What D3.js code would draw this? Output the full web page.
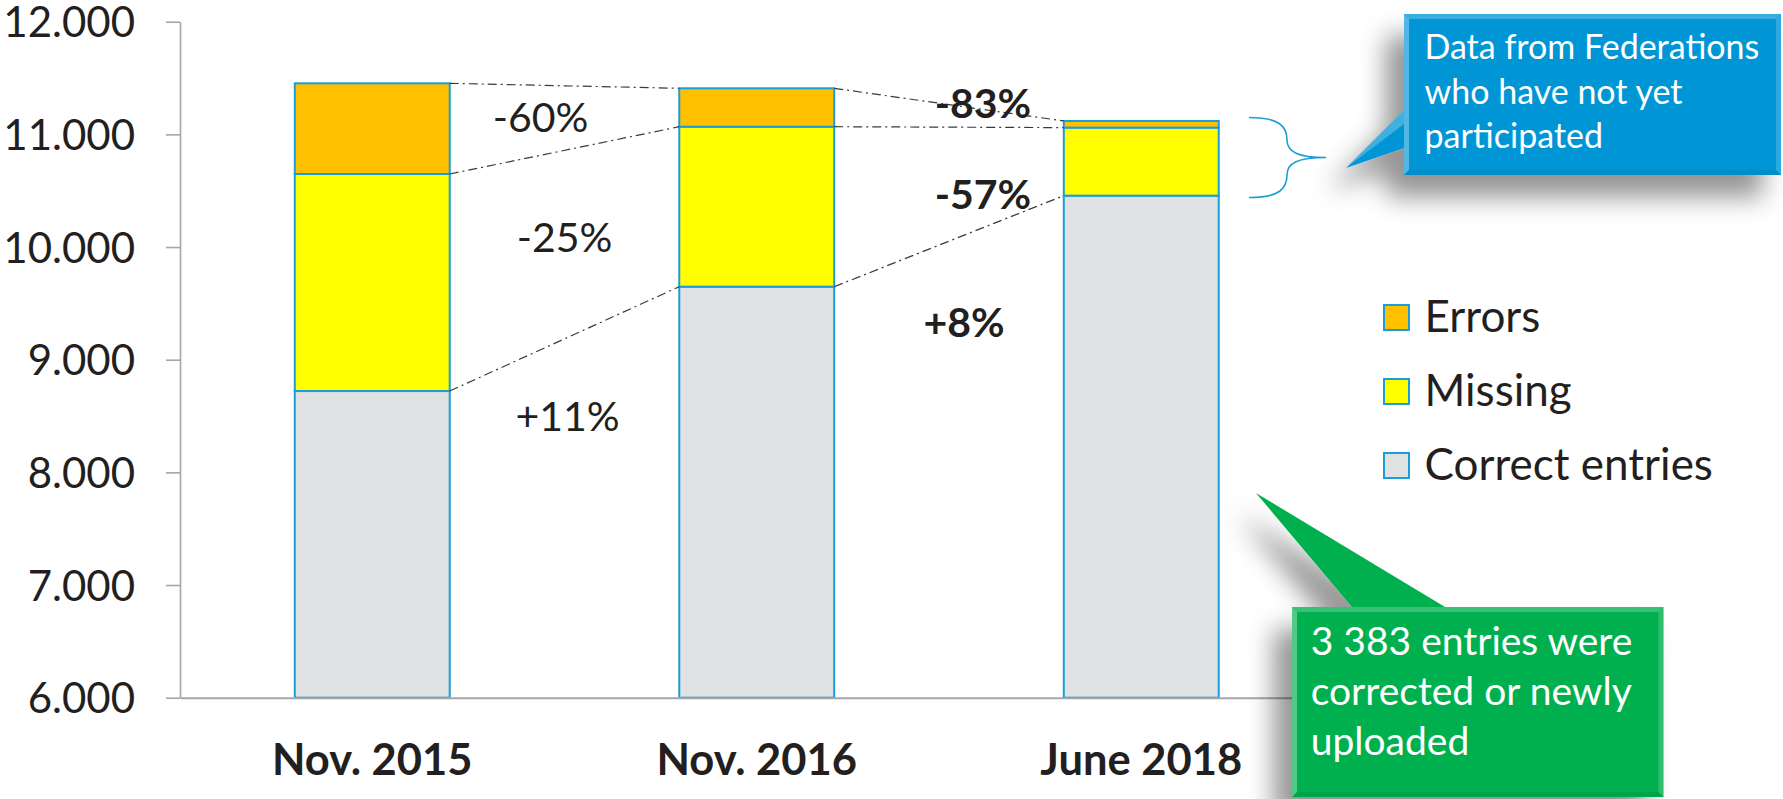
<!DOCTYPE html>
<html>
<head>
<meta charset="utf-8">
<script src="https://cdn.jsdelivr.net/npm/d3@7"></script>
<style>
  html, body { margin: 0; padding: 0; background: #fff; }
  svg { display: block; font-family: Lato, "Open Sans", sans-serif; }
</style>
</head>
<body>
<svg id="chart" width="1783" height="799"></svg>
<script>
// ---------------- data ----------------
const categories = ["Nov. 2015", "Nov. 2016", "June 2018"];
const correctEntries = [8722, 9648, 10456];
const missingEntries = [1926, 1420, 604];
const errorEntries = [805, 341, 59];
const seriesNames = ["Correct entries", "Missing", "Errors"];
const yTicks = [6000, 7000, 8000, 9000, 10000, 11000, 12000];
// change labels between consecutive periods (errors, missing, correct)
const changes1516 = ["-60%", "-25%", "+11%"];
const changes1618 = ["-83%", "-57%", "+8%"];
const calloutBlue = ["Data from Federations", "who have not yet", "participated"];
const calloutGreen = ["3 383 entries were", "corrected or newly", "uploaded"];

// ---------------- layout / style ----------------
const colors = { "Errors": "#FFC000", "Missing": "#FFFF00", "Correct entries": "#E0E1E3" };
const barStroke = "#1B9DD9";
const axisColor = "#A6A6A6";
const textColor = "#231F20";

const svg = d3.select("#chart");
const defs = svg.append("defs");
const shadow = defs.append("filter").attr("id", "shadow")
  .attr("x", "-30%").attr("y", "-30%").attr("width", "160%").attr("height", "170%");
shadow.append("feDropShadow").attr("dx", -18).attr("dy", 22).attr("stdDeviation", 13)
  .attr("flood-color", "#000").attr("flood-opacity", 0.42);

const y = d3.scaleLinear().domain([6000, 12000]).range([697.7, 21.7]);
const yMin = y.domain()[0];
const x = d3.scaleBand().domain(categories).range([180, 1333.5])
  .paddingInner(0.597).paddingOuter(0.2985);

const table = categories.map((c, i) => ({
  cat: c,
  "Correct entries": correctEntries[i],
  "Missing": missingEntries[i],
  "Errors": errorEntries[i]
}));
const stacked = d3.stack().keys(seriesNames)(table);

// ---------------- bars ----------------
const layers = svg.append("g").selectAll("g").data(stacked).join("g")
  .attr("fill", d => colors[d.key]);
layers.selectAll("rect").data(d => d).join("rect")
  .attr("x", d => x(d.data.cat))
  .attr("y", d => y(d[1]))
  .attr("width", x.bandwidth())
  .attr("height", d => y(Math.max(d[0], yMin)) - y(d[1]))
  .attr("stroke", barStroke).attr("stroke-width", 2);

// ---------------- axes ----------------
const locale = d3.formatLocale({ decimal: ",", thousands: ".", grouping: [3], currency: ["", ""] });
const yAxis = d3.axisLeft(y).tickValues(yTicks).tickSize(14).tickSizeOuter(0)
  .tickPadding(31).tickFormat(locale.format(","));
const gy = svg.append("g").attr("transform", "translate(180,0)").call(yAxis);
gy.select(".domain").attr("stroke", axisColor).attr("stroke-width", 1.6);
gy.selectAll(".tick line").attr("stroke", axisColor).attr("stroke-width", 1.6);
gy.selectAll(".tick text").attr("fill", textColor).style("font-size", "42px")
  .style("font-family", "Lato").attr("dy", "0.36em");

const xAxis = d3.axisBottom(x).tickSize(0).tickSizeOuter(0).tickPadding(0);
const gx = svg.append("g").attr("transform", `translate(0,${y(yMin)})`).call(xAxis);
gx.select(".domain").attr("stroke", axisColor).attr("stroke-width", 2);
gx.selectAll(".tick text").attr("fill", textColor).style("font-size", "43.5px")
  .style("font-family", "Lato").style("font-weight", "bold").attr("y", 77).attr("dy", 0);

// ---------------- dash-dot connectors ----------------
const conn = svg.append("g").attr("fill", "none").attr("stroke", "#3a3a3a")
  .attr("stroke-width", 1.2).attr("stroke-dasharray", "9,4,2,4");
stacked.forEach(layer => {
  for (let i = 0; i < categories.length - 1; i++) {
    conn.append("line")
      .attr("x1", x(categories[i]) + x.bandwidth()).attr("y1", y(layer[i][1]))
      .attr("x2", x(categories[i + 1])).attr("y2", y(layer[i + 1][1]));
  }
});

// ---------------- change labels ----------------
const gap1 = (x(categories[0]) + x.bandwidth() + x(categories[1])) / 2;
const gap2 = (x(categories[1]) + x.bandwidth() + x(categories[2])) / 2;
const labelPos1 = [[gap1 - 24, 132], [gap1, 252], [gap1 + 3, 431]];
const labelPos2 = [[gap2 + 34, 118], [gap2 + 34, 209], [gap2 + 15, 337]];
const lg = svg.append("g").attr("fill", textColor).style("font-size", "41px").attr("text-anchor", "middle");
changes1516.forEach((t, i) => lg.append("text").attr("x", labelPos1[i][0]).attr("y", labelPos1[i][1]).text(t));
changes1618.forEach((t, i) => lg.append("text").attr("x", labelPos2[i][0]).attr("y", labelPos2[i][1])
  .style("font-weight", "bold").text(t));

// ---------------- legend ----------------
const legendOrder = ["Errors", "Missing", "Correct entries"];
const leg = svg.append("g").attr("transform", "translate(1383,304)");
legendOrder.forEach((k, i) => {
  const g = leg.append("g").attr("transform", `translate(0,${i * 74})`);
  g.append("rect").attr("x", 1).attr("y", 1).attr("width", 25).attr("height", 25)
    .attr("fill", colors[k]).attr("stroke", barStroke).attr("stroke-width", 2);
  g.append("text").attr("x", 41.5).attr("y", 28).attr("fill", textColor)
    .style("font-size", "44px").text(k);
});

// ---------------- brace ----------------
svg.append("path")
  .attr("d", "M1249,117.5 C1279,117.5 1287,126 1287,140 C1287,152 1298,157.5 1326,157.5 C1298,157.5 1287,163 1287,175 C1287,189 1279,197.5 1249,197.5")
  .attr("fill", "none").attr("stroke", barStroke).attr("stroke-width", 1.6);

// ---------------- callouts ----------------
function bevelBox(g, x0, y0, x1, y1, b) {
  const edges = [
    { pts: [[x0, y0], [x1, y0], [x1 - b, y0 + b], [x0 + b, y0 + b]], fill: "#fff", op: 0.22 },
    { pts: [[x0, y0], [x0 + b, y0 + b], [x0 + b, y1 - b], [x0, y1]], fill: "#fff", op: 0.32 },
    { pts: [[x1, y0], [x1, y1], [x1 - b, y1 - b], [x1 - b, y0 + b]], fill: "#fff", op: 0.18 },
    { pts: [[x0, y1], [x0 + b, y1 - b], [x1 - b, y1 - b], [x1, y1]], fill: "#000", op: 0.06 }
  ];
  edges.forEach(e => g.append("polygon").attr("points", e.pts.map(p => p.join(",")).join(" "))
    .attr("fill", e.fill).attr("fill-opacity", e.op));
}

// blue callout
const blue = svg.append("g");
blue.append("path")
  .attr("d", "M1404,14 L1781,14 L1781,175 L1404,175 L1404,148 L1346,168 L1404,110 Z")
  .attr("fill", "#0096D6").attr("filter", "url(#shadow)");
blue.append("polygon").attr("points", "1404,110 1346,168 1404,124").attr("fill", "#fff").attr("fill-opacity", 0.25);
bevelBox(blue, 1404, 14, 1781, 175, 5);
blue.selectAll("text").data(calloutBlue).join("text")
  .attr("x", 1424.5).attr("y", (d, i) => 59.3 + i * 44.3)
  .attr("fill", "#fff").style("font-size", "34px").text(d => d);

// green callout
const green = svg.append("g");
green.append("path")
  .attr("d", "M1292,607 L1352,607 L1256,493 L1445,607 L1663.5,607 L1663.5,797 L1292,797 Z")
  .attr("fill", "#00B050").attr("filter", "url(#shadow)");
bevelBox(green, 1292, 607, 1663.5, 797, 5);
green.selectAll("text").data(calloutGreen).join("text")
  .attr("x", 1310.7).attr("y", (d, i) => 655 + i * 50)
  .attr("fill", "#fff").style("font-size", "39px").text(d => d);
</script>
</body>
</html>
